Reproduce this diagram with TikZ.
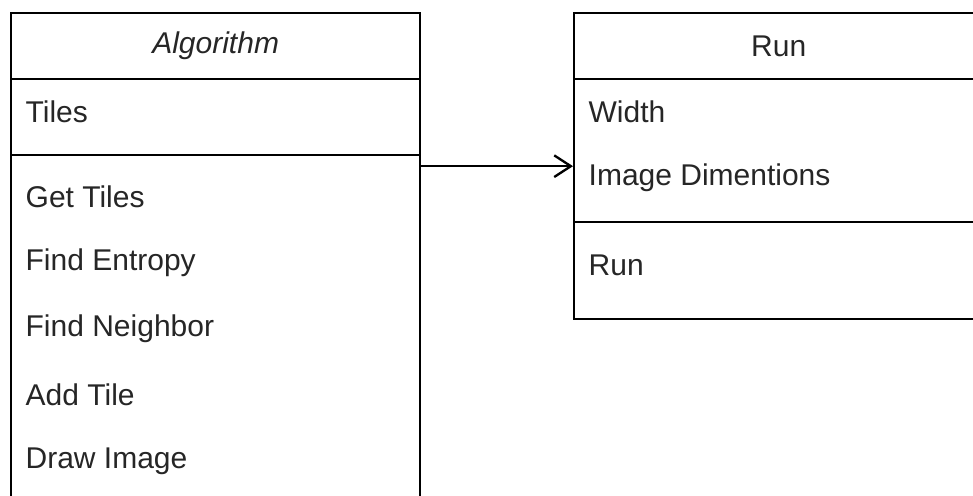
\documentclass[tikz,border=0pt]{standalone}
\usepackage{fontspec}
\setmainfont{Liberation Sans}
\usetikzlibrary{arrows.meta,positioning,calc}
\newcommand{\upx}{0.3pt}
\tikzset{
  part/.style={draw, line width=0.7pt, rectangle, anchor=north west, inner sep=0pt,
    minimum width=409*\upx},
  member/.style={anchor=west, inner sep=0pt, text=black!85,
    font=\fontsize{9}{11}\selectfont},
  title/.style={inner sep=0pt, text=black!85, font=\fontsize{9}{11}\selectfont},
  uml arrow/.style={-{Straight Barb[length=5pt,width=6.5pt]}, line width=0.7pt},
}

\begin{document}
\begin{tikzpicture}[x=\upx, y=-\upx]
  \useasboundingbox (0,0) rectangle (973,495);
  \clip (0,0) rectangle (973,495);
  % Class Algorithm
  \node[part, minimum height=66*\upx] (algohead) at (10,12) {};
  \node[part, minimum height=76*\upx] (algoattr) at (10,78) {};
  \node[part, minimum height=351*\upx] (algoops) at (10,154) {};
  \node[title, font=\fontsize{9}{11}\selectfont\itshape] (algotitle) at (algohead) {Algorithm};
  \node[member] (tiles) at (25,112) {Tiles};
  \foreach \name [count=\i from 0] in {Get Tiles, Find Entropy, Find Neighbor, Add Tile, Draw Image}
    \node[member] (op\i) at (25,197+66*\i) {\name};
  % Class Run
  \node[part, minimum height=66*\upx] (runhead) at (573,12) {};
  \node[part, minimum height=143*\upx] (runattr) at (573,78) {};
  \node[part, minimum height=97*\upx] (runops) at (573,221) {};
  \node[title] (runtitle) at (runhead) {Run};
  \node[member] (width) at (588,112) {Width};
  \node[member] (dims) at (588,178) {Image Dimentions};
  \node[member] (runop) at (588,265) {Run};
  % Association
  \coordinate (runmid) at ($(runhead.north west)!0.5!(runops.south west)$);
  \draw[uml arrow] (runmid -| algoops.east) -- (runmid);
\end{tikzpicture}
\end{document}
